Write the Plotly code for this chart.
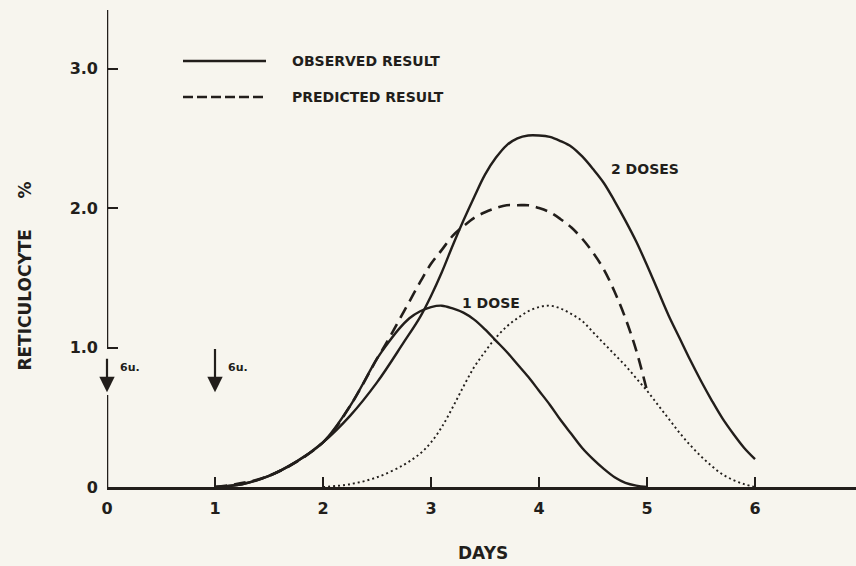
import plotly.graph_objects as go

# Reticulocyte response (%) after one or two 6-unit doses
one_dose_days = [1.0, 1.25, 1.5, 1.75, 2.0, 2.25, 2.5, 2.6, 2.7, 2.8, 2.9, 3.0, 3.1, 3.2, 3.3,
                 3.4, 3.5, 3.6, 3.7, 3.8, 3.9, 4.0, 4.1, 4.2, 4.3, 4.4, 4.5, 4.6, 4.7, 4.8,
                 4.9, 5.0]
one_dose_pct = [0.0, 0.02, 0.08, 0.18, 0.32, 0.58, 0.92, 1.03, 1.13, 1.21, 1.26, 1.29, 1.30,
                1.28, 1.25, 1.20, 1.13, 1.05, 0.97, 0.88, 0.79, 0.69, 0.59, 0.48, 0.38, 0.28,
                0.20, 0.13, 0.07, 0.03, 0.01, 0.0]

two_dose_days = [1.0, 1.25, 1.5, 1.75, 2.0, 2.25, 2.5, 2.75, 2.9, 3.0, 3.1, 3.2, 3.3, 3.4,
                 3.5, 3.6, 3.7, 3.8, 3.9, 4.0, 4.1, 4.2, 4.3, 4.4, 4.5, 4.6, 4.7, 4.8, 4.9,
                 5.0, 5.1, 5.2, 5.3, 5.4, 5.5, 5.6, 5.7, 5.8, 5.9, 6.0]
two_dose_pct = [0.0, 0.02, 0.08, 0.18, 0.32, 0.51, 0.75, 1.04, 1.22, 1.37, 1.54, 1.73, 1.91,
                2.08, 2.24, 2.36, 2.45, 2.50, 2.52, 2.52, 2.51, 2.48, 2.44, 2.37, 2.28, 2.18,
                2.05, 1.91, 1.76, 1.59, 1.41, 1.23, 1.07, 0.91, 0.76, 0.62, 0.49, 0.38, 0.28,
                0.20]

predicted_days = [1.0, 1.5, 2.0, 2.25, 2.5, 2.6, 2.7, 2.8, 2.9, 3.0, 3.1, 3.2, 3.3, 3.4, 3.5,
                  3.6, 3.7, 3.8, 3.9, 4.0, 4.1, 4.2, 4.3, 4.4, 4.5, 4.6, 4.7, 4.8, 4.9, 5.0]
predicted_pct = [0.0, 0.08, 0.32, 0.58, 0.92, 1.05, 1.19, 1.33, 1.47, 1.60, 1.70, 1.80, 1.87,
                 1.93, 1.97, 2.00, 2.02, 2.02, 2.02, 2.00, 1.97, 1.92, 1.86, 1.78, 1.68, 1.56,
                 1.40, 1.21, 0.98, 0.69]

second_dose_days = [2.0, 2.25, 2.5, 2.75, 2.9, 3.0, 3.1, 3.2, 3.3, 3.4, 3.5, 3.6, 3.7, 3.8,
                    3.9, 4.0, 4.1, 4.2, 4.3, 4.4, 4.5, 4.6, 4.7, 4.8, 4.9, 5.0, 5.1, 5.2,
                    5.3, 5.4, 5.5, 5.6, 5.7, 5.8, 5.9, 6.0]
second_dose_pct = [0.0, 0.02, 0.07, 0.16, 0.24, 0.32, 0.43, 0.57, 0.72, 0.86, 0.97, 1.07,
                   1.15, 1.21, 1.26, 1.29, 1.30, 1.28, 1.24, 1.19, 1.11, 1.03, 0.95, 0.87,
                   0.78, 0.69, 0.59, 0.49, 0.39, 0.30, 0.22, 0.15, 0.09, 0.05, 0.02, 0.0]

dose_days = [0, 1]
dose_arrow_top = [0.93, 1.0]
dose_arrow_tip = 0.68
dose_labels = ["6u.", "6u."]

x_ticks = [0, 1, 2, 3, 4, 5, 6]
x_tick_text = ["0", "1", "2", "3", "4", "5", "6"]
y_ticks = [0, 1, 2, 3]
y_tick_text = ["0", "1.0", "2.0", "3.0"]

legend_labels = ["OBSERVED RESULT", "PREDICTED RESULT"]
curve_labels = [("1 DOSE", 3.27, 1.32), ("2 DOSES", 4.65, 2.28)]

INK = "#221e1b"
BG = "#f7f5ee"
X_MAX = 6.935
Y_MAX = 3.42

fig = go.Figure()

def curve(x, y, dash, width):
    fig.add_trace(go.Scatter(
        x=x, y=y, mode="lines",
        line=dict(color=INK, width=width, dash=dash, shape="spline", smoothing=1.0),
        hoverinfo="skip", showlegend=False,
    ))

curve(second_dose_days, second_dose_pct, "2px,3px", 1.9)
curve(predicted_days, predicted_pct, "12px,7px", 2.6)
curve(one_dose_days, one_dose_pct, "solid", 2.4)
curve(two_dose_days, two_dose_pct, "solid", 2.4)

shapes = []
# y axis, broken where the first dose arrow sits
shapes.append(dict(type="line", xref="x", yref="y", x0=0, x1=0, y0=0, y1=0.66,
                   line=dict(color=INK, width=2.5)))
shapes.append(dict(type="line", xref="x", yref="y", x0=0, x1=0, y0=0.99, y1=Y_MAX,
                   line=dict(color=INK, width=2.5)))

# legend key lines
def px_x(p):
    return (p - 107) / 749.0

def px_y(p):
    return (487 - p) / 477.0

shapes.append(dict(type="line", xref="paper", yref="paper",
                   x0=px_x(183), x1=px_x(266), y0=px_y(61), y1=px_y(61),
                   line=dict(color=INK, width=2.5)))
shapes.append(dict(type="line", xref="paper", yref="paper",
                   x0=px_x(183), x1=px_x(266), y0=px_y(97), y1=px_y(97),
                   line=dict(color=INK, width=2.5, dash="10px,4px")))

annotations = []
label_font = dict(family="DejaVu Sans", size=14, color=INK, weight="bold")
for text, py in zip(legend_labels, [61, 97]):
    annotations.append(dict(xref="paper", yref="paper", x=px_x(290), y=px_y(py),
                            text=text, showarrow=False, xanchor="left", yanchor="middle",
                            font=label_font))

for text, cx, cy in curve_labels:
    annotations.append(dict(xref="x", yref="y", x=cx, y=cy, text=text, showarrow=False,
                            xanchor="left", yanchor="middle", font=label_font))

# dose arrows
for d, top, lab in zip(dose_days, dose_arrow_top, dose_labels):
    annotations.append(dict(xref="x", yref="y", x=d, y=dose_arrow_tip,
                            axref="x", ayref="y", ax=d, ay=top, text="",
                            showarrow=True, arrowhead=2, arrowsize=1.4, arrowwidth=2.2,
                            arrowcolor=INK))
    annotations.append(dict(xref="x", yref="y", x=d + 0.1, y=0.86, text=lab,
                            showarrow=False, xanchor="left", yanchor="middle",
                            font=dict(family="DejaVu Sans", size=11, color=INK, weight="bold")))

# axis titles
title_font = dict(family="DejaVu Sans", size=17, color=INK, weight="bold")
annotations.append(dict(xref="paper", yref="paper", x=-0.110, y=px_y(300),
                        text="RETICULOCYTE", textangle=-90, showarrow=False,
                        xanchor="center", yanchor="middle", font=title_font))
annotations.append(dict(xref="paper", yref="paper", x=-0.110, y=px_y(190),
                        text="%", textangle=-90, showarrow=False,
                        xanchor="center", yanchor="middle", font=title_font))
annotations.append(dict(xref="paper", yref="paper", x=px_x(483), y=px_y(553),
                        text="DAYS", showarrow=False,
                        xanchor="center", yanchor="middle", font=title_font))

tick_font = dict(family="DejaVu Sans", size=16, color=INK, weight="bold")
fig.update_layout(
    width=856, height=566,
    margin=dict(l=107, r=0, t=10, b=79),
    paper_bgcolor=BG, plot_bgcolor=BG,
    showlegend=False,
    shapes=shapes,
    annotations=annotations,
    xaxis=dict(range=[0, X_MAX], tickvals=x_ticks, ticktext=x_tick_text,
               ticks="inside", ticklen=10, tickwidth=2.2, tickcolor=INK,
               showline=True, linewidth=2.5, linecolor=INK, showgrid=False, zeroline=False,
               ticklabelstandoff=5, tickfont=tick_font),
    yaxis=dict(range=[0, Y_MAX], tickvals=y_ticks, ticktext=y_tick_text,
               ticks="inside", ticklen=11, tickwidth=2.2, tickcolor=INK,
               showline=False, showgrid=False, zeroline=False,
               ticklabelstandoff=8, tickfont=tick_font),
)

fig.write_html("out.html")
